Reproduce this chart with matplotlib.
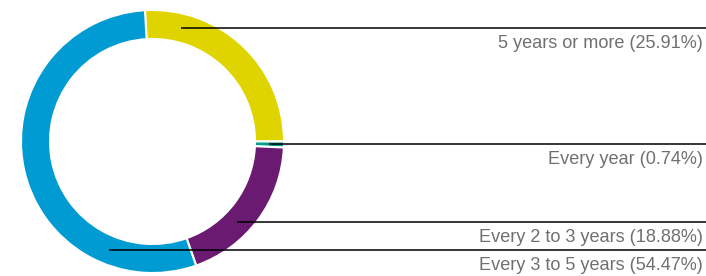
import matplotlib.pyplot as plt
import numpy as np

# ---------------------- Data ----------------------

labels = ["5 years or more", "Every year", "Every 2 to 3 years", "Every 3 to 5 years"]
shares = [25.91, 0.74, 18.88, 54.47]
colors = ["#e0d400", "#00a08a", "#6a1a70", "#009bd3"]

# y positions (pixels from top) of the leader lines
label_y = [28, 144, 222, 250]
label_side = [1, 1, 1, -1]   # which half of the ring the leader line starts from

# ---------------------- Layout ----------------------

W, H = 706, 276
cx, cy = 152.5, H - 141.5
r_out = 131.5
ring = 29

fig = plt.figure(figsize=(W / 100, H / 100), dpi=100)
ax = fig.add_axes([0, 0, 1, 1])

ax.pie(shares, colors=colors, startangle=93.3, counterclock=False,
       center=(cx, cy), radius=r_out,
       wedgeprops=dict(width=ring, edgecolor="white", linewidth=1.5))

# ---------------------- Leader lines + labels ----------------------

r_mid = r_out - ring / 2
for lab, val, y, side in zip(labels, shares, label_y, label_side):
    yy = H - y
    dx = np.sqrt(max(r_mid ** 2 - (yy - cy) ** 2, 0))
    x0 = cx + side * dx
    ax.plot([x0, W], [yy, yy], color="black", lw=1.1, solid_capstyle="butt")
    ax.text(W - 3, yy - 15, f"{lab} ({val:.2f}%)", ha="right", va="center",
            fontsize=13.1, color="#707070", family="Liberation Sans")

ax.set_xlim(0, W)
ax.set_ylim(0, H)
ax.set_aspect("auto")
ax.axis("off")

fig.savefig("out.png", dpi=100)
